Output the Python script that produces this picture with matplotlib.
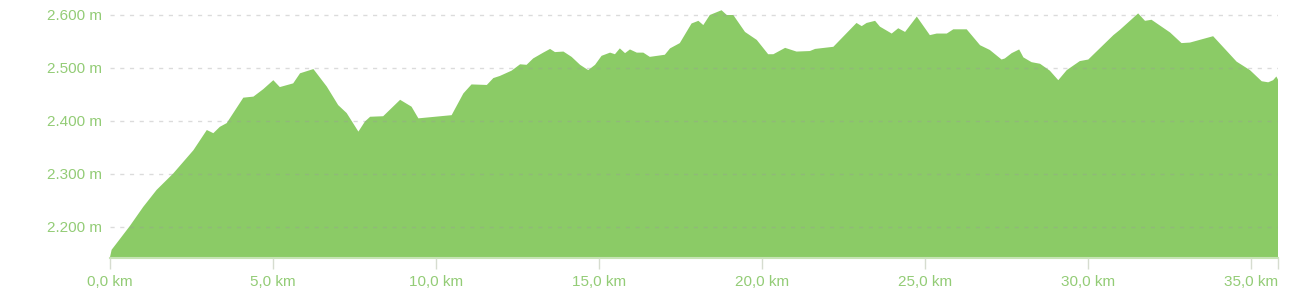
import matplotlib
matplotlib.use("Agg")
import matplotlib.pyplot as plt
from matplotlib.ticker import FuncFormatter

# distance (km) and elevation (m)
km = [0.00, 0.05, 0.20, 0.61, 1.02, 1.43, 1.94, 2.56, 2.97, 3.17, 3.37, 3.58,
      4.09, 4.40, 4.70, 5.01,
      5.21, 5.62, 5.83, 6.24, 6.65, 7.00, 7.26, 7.62, 7.82, 7.98, 8.38, 8.90,
      9.25, 9.46, 10.48, 10.84, 11.09, 11.56, 11.76, 11.96, 12.32, 12.58, 12.78,
      12.98, 13.29, 13.50, 13.65, 13.91, 14.16, 14.42, 14.67, 14.88, 15.08,
      15.34, 15.49, 15.64, 15.80, 15.95, 16.16, 16.36, 16.56, 17.02, 17.18,
      17.48, 17.84, 18.05, 18.20, 18.40, 18.76, 18.92, 19.12, 19.48, 19.84,
      20.19, 20.35, 20.71, 21.06, 21.47, 21.63, 22.19, 22.90, 23.06, 23.21,
      23.47, 23.62, 23.98, 24.18, 24.39, 24.75, 25.15, 25.36, 25.67, 25.87,
      26.28, 26.69, 26.99, 27.35, 27.45, 27.66, 27.89, 28.02, 28.27, 28.53,
      28.83, 29.09, 29.35, 29.75, 30.01, 30.78, 30.98, 31.54, 31.75, 31.95,
      32.52, 32.87, 33.13, 33.84, 34.56, 34.97, 35.33, 35.53, 35.68, 35.78,
      35.83]
elev = [2143, 2157, 2169, 2202, 2238, 2270, 2301, 2345, 2383, 2377, 2389, 2396,
        2444, 2446, 2460, 2477,
        2464, 2471, 2490, 2498, 2465, 2430, 2415, 2380, 2399, 2408, 2409, 2440,
        2427, 2405, 2411, 2452, 2469, 2468, 2481, 2485, 2495, 2507, 2506,
        2518, 2529, 2536, 2530, 2531, 2521, 2506, 2496, 2506, 2523,
        2529, 2526, 2537, 2528, 2535, 2529, 2529, 2521, 2525, 2537,
        2547, 2584, 2589, 2581, 2600, 2609, 2600, 2600, 2568, 2553,
        2526, 2526, 2538, 2531, 2532, 2536, 2540, 2585, 2579, 2585,
        2589, 2578, 2565, 2575, 2568, 2597, 2562, 2565, 2565, 2573,
        2573, 2543, 2534, 2516, 2518, 2528, 2535, 2520, 2511, 2508,
        2495, 2477, 2496, 2513, 2516, 2562, 2572, 2603, 2589, 2591,
        2567, 2547, 2548, 2560, 2512, 2496, 2475, 2473, 2477, 2484,
        2478]

x_ticks = [0, 5, 10, 15, 20, 25, 30, 35, 35.83]
y_ticks = [2200, 2300, 2400, 2500, 2600]

fill_color = '#8bcb66'
text_color = '#93cc76'

fig = plt.figure(figsize=(13.08, 3.01), dpi=100)
ax = fig.add_axes([110 / 1308, 43 / 301, 1168 / 1308, 258 / 301])

ax.fill_between(km, elev, 2000, color=fill_color, linewidth=0, zorder=1)

ax.set_xlim(0, km[-1])
ax.set_ylim(2141.5, 2628.3)

ax.set_yticks(y_ticks)
ax.yaxis.set_major_formatter(FuncFormatter(lambda v, p: f"{int(v):,} m".replace(",", ".")))
ax.set_xticks(x_ticks)
ax.set_xticklabels([f"{v:.1f} km".replace(".", ",") for v in x_ticks[:-1]] + [""])

ax.tick_params(axis='y', length=0, pad=6, labelsize=11, labelcolor=text_color)
ax.tick_params(axis='x', length=8, width=1, color='#d6dccf', pad=4,
               labelsize=11, labelcolor=text_color)
for lbl in ax.get_xticklabels() + ax.get_yticklabels():
    lbl.set_fontfamily('Liberation Sans')

ax.grid(axis='y', color='#9a9a9a', alpha=0.35, linestyle=(0, (3, 4)),
        linewidth=1, zorder=2)
ax.set_axisbelow(False)

for side in ['top', 'right', 'left']:
    ax.spines[side].set_visible(False)
ax.spines['bottom'].set_color('#c6e4b4')
ax.spines['bottom'].set_linewidth(1.5)

fig.savefig('out.png', dpi=100, facecolor='white')
